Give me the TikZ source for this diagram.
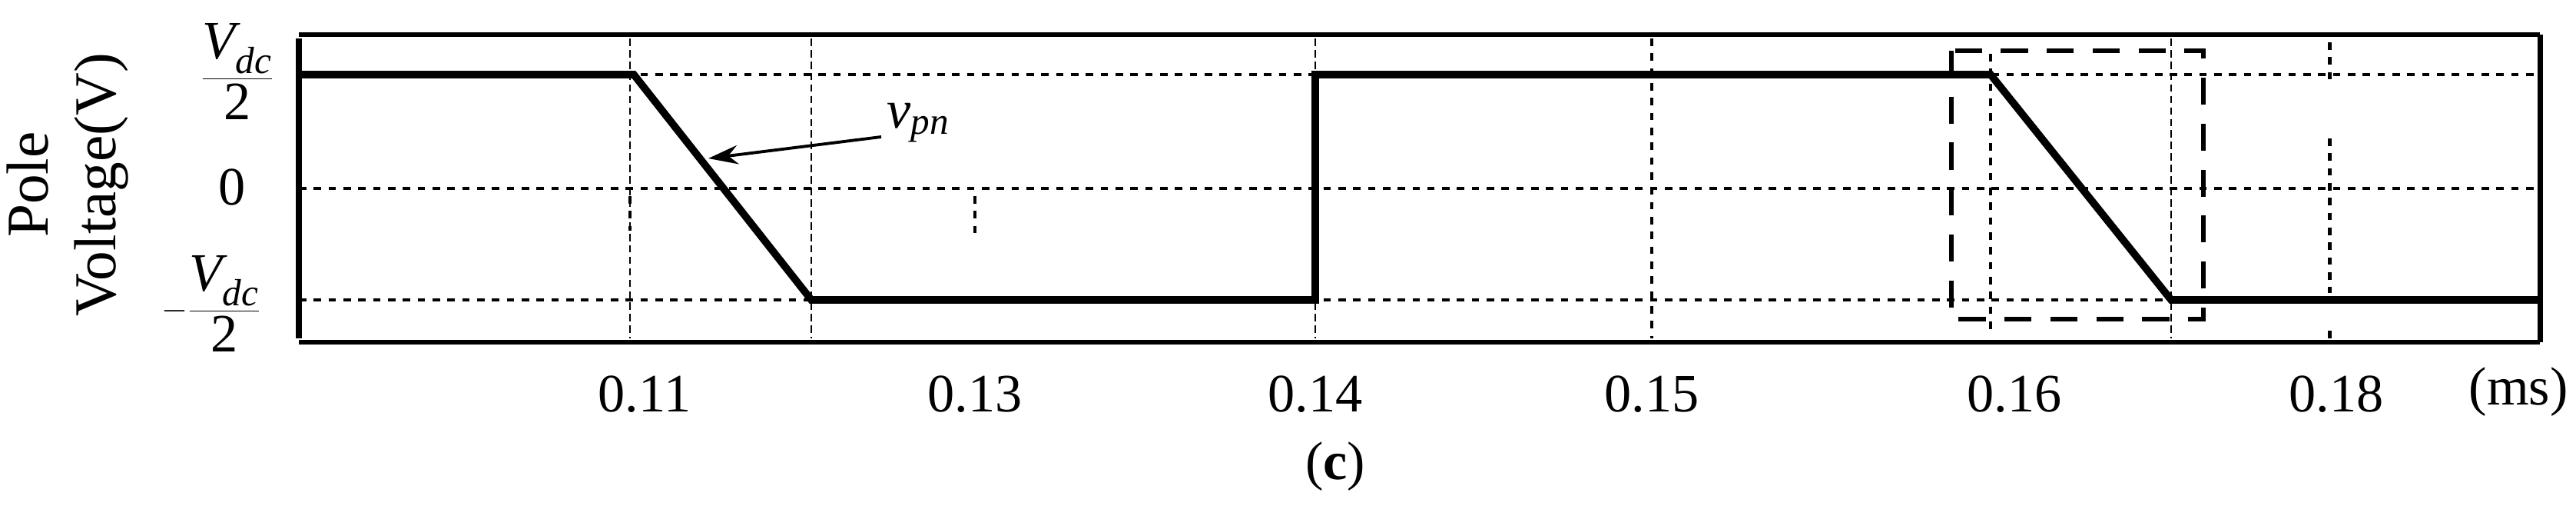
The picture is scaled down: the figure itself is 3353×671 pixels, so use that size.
\documentclass[tikz,border=0pt]{standalone}
\usepackage{amsmath}
\usepackage{fontspec}
\setmainfont{Liberation Serif}
\usetikzlibrary{arrows.meta}
\newcommand{\vdcfrac}{\displaystyle\frac{\textit{V}_{\textit{dc}}}{\textrm{2}}}
\begin{document}
\begin{tikzpicture}[x=0.02cm,y=-0.02cm,
  lbl/.style={font=\fontsize{40}{44}\selectfont, inner sep=0pt},
  ylbl/.style={font=\fontsize{44}{50}\selectfont, inner sep=0pt},
  grid/.style={line width=2.8pt, dash pattern=on 5.5pt off 5.5pt},
  fine/.style={line width=1.2pt, dash pattern=on 5.5pt off 3pt},
  wave/.style={line width=5.5pt, line join=miter},
  box/.style={line width=3pt, dash pattern=on 20pt off 14pt}]
\useasboundingbox (0,0) rectangle (3353,671);
% frame
\draw[line width=3.2pt] (389,45) -- (3306,45);
\draw[line width=3.2pt] (389,445) -- (3306,445);
\draw[line width=5pt] (389,50) -- (389,440);
\draw[line width=4pt] (3306,45) -- (3306,445);
% grid horizontals
\foreach \y in {97,245,390} \draw[grid] (389,\y) -- (3306,\y);
% fine dashed verticals
\foreach \x in {820,1056,1712,2826} \draw[fine] (\x,50) -- (\x,440);
% dotted verticals
\draw[grid] (2150,50) -- (2150,440);
\draw[grid] (2591,70) -- (2591,430);
\draw[grid] (3032,55) -- (3032,103);
\draw[grid] (3032,180) -- (3032,381);
\draw[grid] (3032,430) -- (3032,445);
\draw[grid] (820,255) -- (820,300);
\draw[grid] (1269,255) -- (1269,305);
% waveform
\draw[wave] (389,97) -- (825,97) -- (1056,390) -- (1712,390) -- (1712,97) -- (2591,97) -- (2826,390) -- (3306,390);
% dashed box
\draw[box] (2540,66) rectangle (2868,415);
% y labels
\node[lbl] (vp) at (309,93) {$\vdcfrac$};
\node[lbl] (vz) at (302,243) {0};
\node[lbl] (vm) at (275,395) {$-\vdcfrac$};
\node[ylbl, rotate=90, align=center] (yl) at (88,240) {Pole\\Voltage(V)};
% x labels
\node[lbl] (t11) at (839,513) {0.11};
\node[lbl] (t13) at (1269,513) {0.13};
\node[lbl] (t14) at (1712,513) {0.14};
\node[lbl] (t15) at (2150,513) {0.15};
\node[lbl] (t16) at (2622,513) {0.16};
\node[lbl] (t18) at (3041,513) {0.18};
\node[lbl] (ms) at (3278,510) {(ms)};
\node[lbl] (cap) at (1738,607) {(\textbf{c})};
% annotation
\node[lbl] (vpn) at (1195,160) {$\textit{v}_{\textit{pn}}$};
\coordinate (tip) at (922,206);
\draw[line width=2.2pt, -{Stealth[length=22pt,width=14pt]}] (1147,178) -- (tip);
\end{tikzpicture}
\end{document}
